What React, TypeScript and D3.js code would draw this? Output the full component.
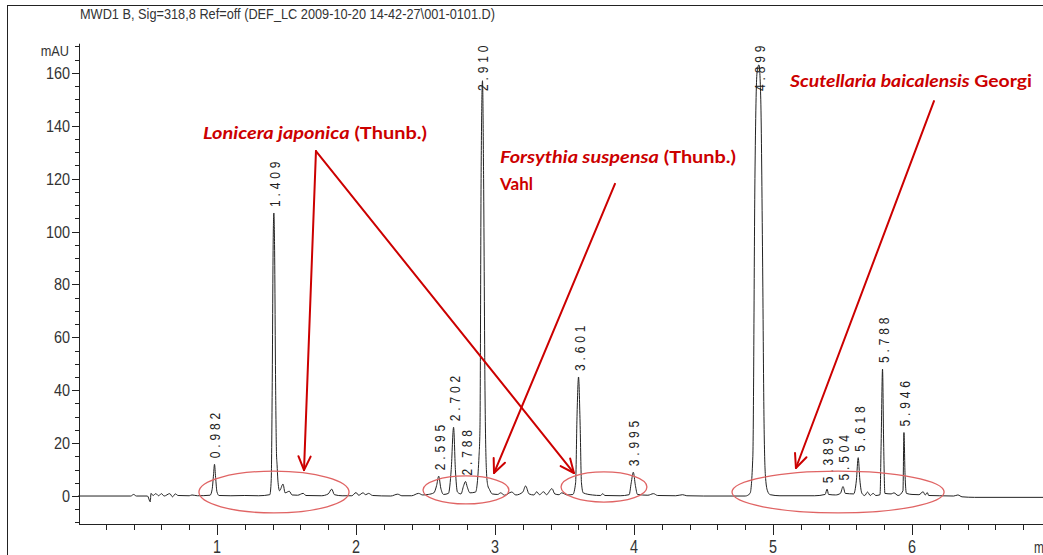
import React from "react";
import * as d3 from "d3";

const titleText = "MWD1 B, Sig=318,8 Ref=off (DEF_LC 2009-10-20 14-42-27\\001-0101.D)";

// chromatogram trace: retention time (min) and signal (mAU)
const traceTime = [
  0.0, 0.38, 0.4, 0.42, 0.5, 0.52, 0.525, 0.54, 0.56, 0.58, 0.6, 0.62, 0.66, 0.68, 0.7, 0.72, 0.8, 0.82, 0.86,
  0.95, 0.965, 0.975, 0.982, 0.99, 1.0, 1.015, 1.1, 1.2, 1.3, 1.38, 1.39, 1.397, 1.404, 1.409, 1.414, 1.422,
  1.428, 1.432, 1.438, 1.45, 1.475, 1.49, 1.52, 1.54, 1.58, 1.62, 1.64, 1.75, 1.8, 1.825, 1.845, 1.9, 1.97,
  2.0, 2.02, 2.05, 2.07, 2.09, 2.12, 2.25, 2.3, 2.33, 2.4, 2.45, 2.48, 2.52, 2.56, 2.58, 2.595, 2.61, 2.63,
  2.665, 2.685, 2.702, 2.715, 2.73, 2.755, 2.775, 2.788, 2.8, 2.82, 2.86, 2.885, 2.892, 2.9, 2.91, 2.918,
  2.928, 2.938, 2.948, 2.96, 2.98, 3.02, 3.04, 3.07, 3.12, 3.15, 3.2, 3.22, 3.245, 3.28, 3.3, 3.32, 3.35,
  3.37, 3.41, 3.43, 3.46, 3.48, 3.52, 3.56, 3.58, 3.59, 3.601, 3.612, 3.622, 3.635, 3.7, 3.76, 3.775, 3.79,
  3.9, 3.965, 3.98, 3.995, 4.01, 4.025, 4.1, 4.14, 4.17, 4.3, 4.35, 4.38, 4.5, 4.8, 4.835, 4.855, 4.87, 4.885,
  4.899, 4.912, 4.925, 4.935, 4.945, 4.96, 4.98, 5.05, 5.3, 5.375, 5.389, 5.4, 5.45, 5.485, 5.504, 5.52,
  5.58, 5.6, 5.613, 5.625, 5.64, 5.66, 5.68, 5.7, 5.72, 5.74, 5.77, 5.778, 5.788, 5.796, 5.805, 5.85, 5.87,
  5.9, 5.935, 5.942, 5.95, 5.96, 6.0, 6.05, 6.08, 6.095, 6.11, 6.12, 6.2, 6.3, 6.33, 6.36, 6.45, 7.0,
];
const traceMAU = [
  0, 0, 0.6, 0, 0, -2.2, 1.0, 0.2, 0.9, 0.1, 0.9, 0, 0.9, -0.3, 0.8, 0.2, 0.1, 0.4, 0.1,
  0.3, 2.5, 8, 12, 7, 1.5, 0.2, 0.1, 0.2, 0.1, 0.5, 6, 40, 95, 107, 95, 40,
  16, 12, 6, 2, 4.5, 1.2, 1.8, 0.4, 0.3, 1.0, 0.2, 0.1, 0.8, 2.6, 0.5, 0.1, 0.1,
  1.3, 0.3, 1.2, 0.5, 1.0, 0.2, 0, 0.7, 0.1, 0.1, 1.0, 0.4, 0.6, 1.2, 4, 7.5, 3, 0.6,
  1, 10, 26, 10, 1.5, 0.8, 4, 5.5, 3.5, 1.2, 1.5, 15, 26, 120, 157, 120,
  40, 10, 4, 2.5, 0.8, 0.6, 1.2, 0.3, 1.5, 0.4, 1.5, 3.8, 0.8, 0.4, 1.6, 0.5, 1.6,
  0.5, 2.8, 0.8, 0.5, 1.2, 0.4, 0.6, 5, 30, 45, 28, 5, 1.2, 0.4, 0.2, 0.9, 0.2,
  0.1, 0.5, 5, 9, 4, 0.6, 0.3, 0.9, 0.2, 0.1, 0.5, 0.1, 0, 0, 1, 15, 120, 160,
  163, 150, 90, 30, 8, 2, 0.5, 0.1, 0.1, 0.6, 2.6, 0.6, 0.4, 1, 3.6, 1,
  0.8, 6, 14.5, 6, 1, 0.2, 1.5, 0.2, 1, 0.2, 0.5, 20, 48, 20, 1, 0.8, 1.2,
  0.2, 2, 24, 8, 1, 0.6, 0.5, 1.6, 0.4, 1.3, 0.2, 0.1, 0, 0.4, -0.3, -0.5, -0.5,
];

// labelled peaks
const peakTimes = [0.982, 1.409, 2.595, 2.702, 2.788, 2.91, 3.601, 3.995, 4.899, 5.389, 5.504, 5.618, 5.788, 5.946];
const peakHeights = [12, 107, 7.5, 26, 5.5, 157, 45, 9, 163, 2.6, 3.6, 14.5, 48, 24];
const peakLabels = ["0.982", "1.409", "2.595", "2.702", "2.788", "2.910", "3.601", "3.995", "4.899", "5.389", "5.504", "5.618", "5.788", "5.946"];

const xTicks = [1, 2, 3, 4, 5, 6];
const xMinorTicks = d3.range(0.2, 7.0, 0.2);
const yTicks = [0, 20, 40, 60, 80, 100, 120, 140, 160];
const yMinorTicks = d3.range(-10, 171, 5);

// annotation regions (time centre, mAU centre, half-width min, half-height mAU)
const ellipseT = [1.41, 2.791, 3.784, 5.468];
const ellipseV = [1.5, 2.3, 3.4, 1.5];
const ellipseRT = [0.54, 0.309, 0.309, 0.763];
const ellipseRV = [7.9, 5.3, 5.7, 7.9];

// arrows: start (t,v) -> end (t,v)
const arrowFromT = [1.712, 1.712, 3.863, 6.158];
const arrowFromV = [130.4, 130.4, 118, 149.3];
const arrowToT = [1.626, 3.568, 2.993, 5.165];
const arrowToV = [9.8, 8.7, 8.7, 10.6];

const W = 1043;
const H = 555;
const RED = "#cc0000";

function Arrow({ x1, y1, x2, y2 }: { x1: number; y1: number; x2: number; y2: number }) {
  const ang = Math.atan2(y2 - y1, x2 - x1);
  const len = 15;
  const spread = 0.42;
  const a1x = x2 - len * Math.cos(ang - spread);
  const a1y = y2 - len * Math.sin(ang - spread);
  const a2x = x2 - len * Math.cos(ang + spread);
  const a2y = y2 - len * Math.sin(ang + spread);
  return (
    <g stroke={RED} strokeWidth={2} fill="none" strokeLinecap="round" strokeLinejoin="round">
      <line x1={x1} y1={y1} x2={x2} y2={y2} />
      <polyline points={`${a1x},${a1y} ${x2},${y2} ${a2x},${a2y}`} />
    </g>
  );
}

export default function App() {
  const x = d3.scaleLinear().domain([0, 7]).range([78, 78 + 7 * 139]);
  const y = d3.scaleLinear().domain([-10.5, 171]).range([523.8, 43.7]);
  const pts: [number, number][] = traceTime.map((t, i) => [t, traceMAU[i]]);
  const line = d3
    .line<[number, number]>()
    .x((d) => x(d[0]))
    .y((d) => y(d[1]))
    .curve(d3.curveMonotoneX);
  const axisX = 79;
  const axisY = 524;
  const font = "'Liberation Sans', Arial, sans-serif";
  const ann = "Lato, 'Open Sans', sans-serif";

  return (
    <svg width={W} height={H} style={{ position: "absolute", left: 0, top: 0, background: "#fff" }}>
      <defs>
        <clipPath id="clip">
          <rect x={0} y={0} width={W} height={H} />
        </clipPath>
      </defs>
      {/* frame */}
      <line x1={7} y1={5.5} x2={W} y2={5.5} stroke="#222" strokeWidth={1} />
      <line x1={7.5} y1={5} x2={7.5} y2={H} stroke="#222" strokeWidth={1} />
      {/* title */}
      <text x={80} y={19} fontFamily={font} fontSize={15} fill="#333" textLength={415} lengthAdjust="spacingAndGlyphs">
        {titleText}
      </text>
      {/* y axis */}
      <line x1={axisX + 0.5} y1={y(171)} x2={axisX + 0.5} y2={axisY} stroke="#222" />
      {yMinorTicks.map((v) => (
        <line key={"ym" + v} x1={axisX - 4} x2={axisX} y1={Math.round(y(v)) + 0.5} y2={Math.round(y(v)) + 0.5} stroke="#222" />
      ))}
      {yTicks.map((v) => (
        <g key={"y" + v}>
          <line x1={axisX - 7} x2={axisX} y1={Math.round(y(v)) + 0.5} y2={Math.round(y(v)) + 0.5} stroke="#222" />
          <g transform={`translate(70,${y(v) + 6})`}>
            <text transform="scale(0.85,1)" textAnchor="end" fontFamily={font} fontSize={17} fill="#333">
              {v}
            </text>
          </g>
        </g>
      ))}
      <g transform={`translate(69,${y(171) + 12})`}>
        <text transform="scale(0.85,1)" textAnchor="end" fontFamily={font} fontSize={15} fill="#333">
          mAU
        </text>
      </g>
      {/* x axis */}
      <line x1={axisX} y1={axisY + 0.5} x2={W} y2={axisY + 0.5} stroke="#222" />
      {xMinorTicks.map((t) => (
        <line key={"xm" + t} x1={Math.round(x(t)) + 0.5} x2={Math.round(x(t)) + 0.5} y1={axisY} y2={axisY + 6} stroke="#222" />
      ))}
      {xTicks.map((t) => (
        <g key={"x" + t}>
          <line x1={Math.round(x(t)) + 0.5} x2={Math.round(x(t)) + 0.5} y1={axisY} y2={axisY + 11} stroke="#222" />
          <g transform={`translate(${x(t)},553)`}>
            <text transform="scale(0.8,1)" textAnchor="middle" fontFamily={font} fontSize={18} fill="#333">
              {t}
            </text>
          </g>
        </g>
      ))}
      <g transform={`translate(1034,553)`}>
        <text transform="scale(0.7,1)" textAnchor="start" fontFamily={font} fontSize={17} fill="#333">
          min
        </text>
      </g>
      {/* trace */}
      <g clipPath="url(#clip)">
        <path d={line(pts) || ""} fill="none" stroke="#222" strokeWidth={1} />
      </g>
      {/* peak labels */}
      {peakTimes.map((t, i) => {
        const base = Math.max(y(peakHeights[i]) - 6, 91);
        return (
          <g key={"pl" + i} transform={`translate(${x(t) + 6},${base}) rotate(-90)`}>
            <text transform="scale(0.8,1)" fontFamily={font} fontSize={15} letterSpacing={4.8} fill="#222">
              {peakLabels[i]}
            </text>
          </g>
        );
      })}
      {/* ellipses */}
      {ellipseT.map((t, i) => (
        <ellipse
          key={"e" + i}
          cx={x(t)}
          cy={y(ellipseV[i])}
          rx={x(t + ellipseRT[i]) - x(t)}
          ry={y(0) - y(ellipseRV[i])}
          fill="none"
          stroke="#e06464"
          strokeWidth={1.3}
        />
      ))}
      {/* arrows */}
      {arrowFromT.map((t, i) => (
        <Arrow key={"a" + i} x1={x(t)} y1={y(arrowFromV[i])} x2={x(arrowToT[i])} y2={y(arrowToV[i])} />
      ))}
      {/* annotation text */}
      <text x={x(0.899)} y={y(135)} fontFamily={ann} fontWeight="bold" fontSize={17} fill={RED} textLength={224} lengthAdjust="spacingAndGlyphs">
        <tspan fontStyle="italic">Lonicera japonica</tspan> (Thunb.)
      </text>
      <text x={x(3.036)} y={y(125.9)} fontFamily={ann} fontWeight="bold" fontSize={17} fill={RED} textLength={236} lengthAdjust="spacingAndGlyphs">
        <tspan fontStyle="italic">Forsythia suspensa</tspan> (Thunb.)
      </text>
      <text x={x(3.036)} y={y(115.7)} fontFamily={ann} fontWeight="bold" fontSize={17} fill={RED}>
        Vahl
      </text>
      <text x={x(5.122)} y={y(154.6)} fontFamily={ann} fontWeight="bold" fontSize={17} fill={RED} textLength={242} lengthAdjust="spacingAndGlyphs">
        <tspan fontStyle="italic">Scutellaria baicalensis</tspan> Georgi
      </text>
    </svg>
  );
}
